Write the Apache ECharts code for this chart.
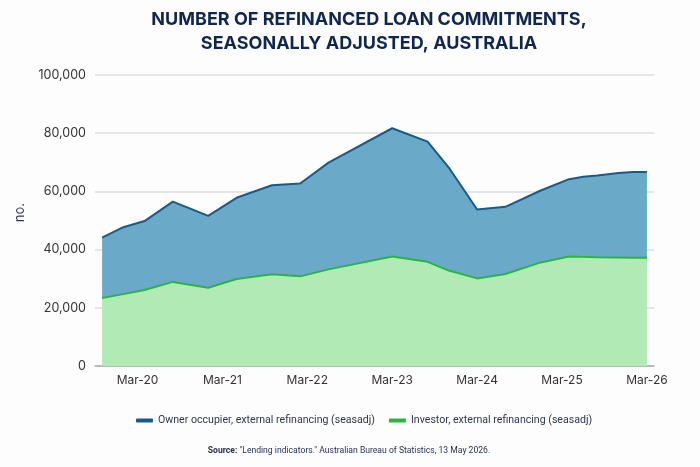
<!DOCTYPE html>
<html>
<head>
<meta charset="utf-8">
<script src="https://cdn.jsdelivr.net/npm/echarts@6/dist/echarts.min.js"></script>
<style>
html,body{margin:0;padding:0;background:#fdfdfd;}
#chart{width:700px;height:467px;}
</style>
</head>
<body>
<div id="chart"></div>
<script>
// Monthly category axis (Sep-19 .. Apr-26); only Mar labels are shown
const categories = [
  'Sep-19','Oct-19','Nov-19','Dec-19',
  'Jan-20','Feb-20','Mar-20','Apr-20','May-20','Jun-20','Jul-20','Aug-20','Sep-20','Oct-20','Nov-20','Dec-20',
  'Jan-21','Feb-21','Mar-21','Apr-21','May-21','Jun-21','Jul-21','Aug-21','Sep-21','Oct-21','Nov-21','Dec-21',
  'Jan-22','Feb-22','Mar-22','Apr-22','May-22','Jun-22','Jul-22','Aug-22','Sep-22','Oct-22','Nov-22','Dec-22',
  'Jan-23','Feb-23','Mar-23','Apr-23','May-23','Jun-23','Jul-23','Aug-23','Sep-23','Oct-23','Nov-23','Dec-23',
  'Jan-24','Feb-24','Mar-24','Apr-24','May-24','Jun-24','Jul-24','Aug-24','Sep-24','Oct-24','Nov-24','Dec-24',
  'Jan-25','Feb-25','Mar-25','Apr-25','May-25','Jun-25','Jul-25','Aug-25','Sep-25','Oct-25','Nov-25','Dec-25',
  'Jan-26','Feb-26','Mar-26','Apr-26'
];
const pointMonths = ['Oct-19','Jan-20','Apr-20','Aug-20','Jan-21','May-21','Oct-21','Feb-22','Jun-22','Mar-23','Aug-23','Nov-23','Mar-24','Jul-24','Dec-24','Apr-25','Jun-25','Aug-25','Nov-25','Jan-26','Mar-26'];
const investorValues = [23400,24700,26100,28900,26900,29900,31500,30800,33200,37600,35800,32800,30100,31600,35600,37600,37500,37400,37300,37200,37200];
const ownerValues    = [20700,23000,23700,27600,24700,27900,30600,31900,36700,44100,41300,35400,23700,23100,24700,26600,27500,28100,29000,29500,29500];
const yTicks = [0,20000,40000,60000,80000,100000];

const ownerName = 'Owner occupier, external refinancing (seasadj)';
const investorName = 'Investor, external refinancing (seasadj)';

function toSeries(vals){
  const m = {};
  pointMonths.forEach((k,i)=>{ m[k]=vals[i]; });
  return categories.map(c => (c in m) ? m[c] : null);
}

const chart = echarts.init(document.getElementById('chart'), null, {renderer:'canvas'});
const FONT = 'Inter, "Noto Sans", sans-serif';
const SMALL = 'Roboto, sans-serif';
chart.setOption({
  backgroundColor:'#fdfdfd',
  animation:false,
  title:[{
    text:'NUMBER OF REFINANCED LOAN COMMITMENTS,\nSEASONALLY ADJUSTED, AUSTRALIA',
    left:364, top:3, textAlign:'center',
    textStyle:{fontFamily:FONT, fontSize:18, fontWeight:'bold', color:'#0f2650', lineHeight:24}
  },{
    text:'{b|Source:} "Lending indicators." Australian Bureau of Statistics, 13 May 2026.',
    left:344, top:441, textAlign:'center',
    textStyle:{fontFamily:SMALL, fontSize:8.6, fontWeight:'normal', color:'#1f2b4d',
      rich:{b:{fontFamily:SMALL, fontSize:8.6, fontWeight:'bold', color:'#1f2b4d'}}}
  }],
  graphic:[{
    type:'text', left:14, top:203, rotation:Math.PI/2,
    style:{text:'no.', font:'13px Inter, "Noto Sans", sans-serif', fill:'#2b3566', textAlign:'center', textVerticalAlign:'middle'}
  }],
  legend:{
    data:[ownerName, investorName],
    top:410, left:131,
    icon:'roundRect', itemWidth:17, itemHeight:4, itemGap:14,
    textStyle:{fontFamily:SMALL, fontSize:10.6, color:'#2e3550'}
  },
  grid:{left:95, right:46, top:75, bottom:101},
  xAxis:{
    type:'category', data:categories, boundaryGap:false,
    axisLine:{lineStyle:{color:'#aaaaaa', width:1.5}},
    axisTick:{show:false},
    axisLabel:{
      interval:(i,v)=>v.indexOf('Mar')===0,
      fontFamily:FONT, fontSize:12, color:'#333', margin:8
    },
    splitLine:{show:false}
  },
  yAxis:{
    type:'value', min:yTicks[0], max:yTicks[yTicks.length-1], interval:20000,
    axisLine:{show:false}, axisTick:{show:false},
    axisLabel:{fontFamily:FONT, fontSize:12.5, color:'#333', margin:9,
      formatter:v=>v.toLocaleString('en-US')},
    splitLine:{lineStyle:{color:'#dcdcdc', width:1.5}}
  },
  series:[{
    name:investorName, type:'line', stack:'total', connectNulls:true,
    data:toSeries(investorValues), showSymbol:false, symbol:'none',
    color:'#2bb53a',
    lineStyle:{color:'#2bb53a', width:2},
    areaStyle:{color:'#b1eab5', opacity:1},
    z:3
  },{
    name:ownerName, type:'line', stack:'total', connectNulls:true,
    data:toSeries(ownerValues), showSymbol:false, symbol:'none',
    color:'#175a8c',
    lineStyle:{color:'#175a8c', width:2},
    areaStyle:{color:'#6aaac8', opacity:1},
    z:2
  }]
});
</script>
</body>
</html>
